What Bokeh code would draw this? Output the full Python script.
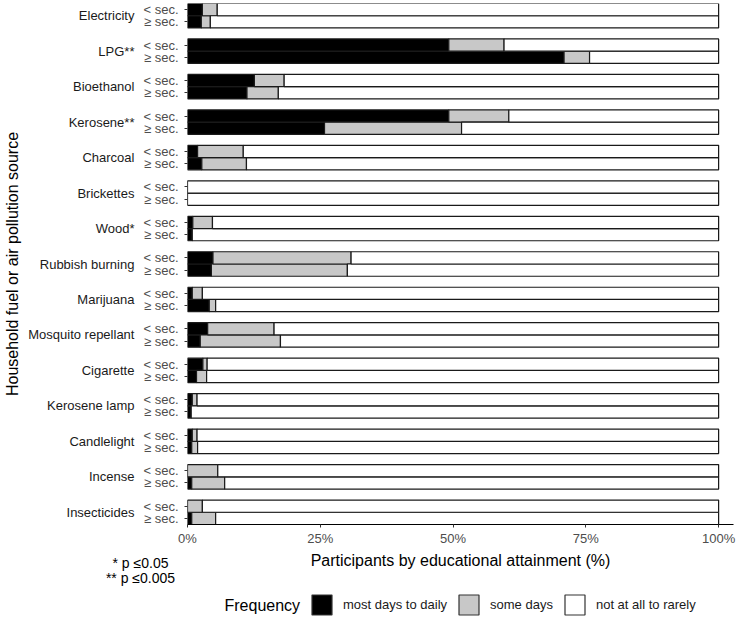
from bokeh.plotting import figure
from bokeh.layouts import column
from bokeh.models import (ColumnDataSource, FactorRange, Range1d, FixedTicker, Legend,
                          LegendItem, Label)
from bokeh.embed import file_html
from bokeh.resources import INLINE

# ---- data (percent of participants) ----
categories = ["Electricity", "LPG**", "Bioethanol", "Kerosene**", "Charcoal", "Brickettes",
              "Wood*", "Rubbish burning", "Marijuana", "Mosquito repellant", "Cigarette",
              "Kerosene lamp", "Candlelight", "Incense", "Insecticides"]
edu_levels = ["< sec.", "\u2265 sec."]

# below secondary education
daily_lt = [2.8, 49.2, 12.6, 49.2, 1.9, 0.0, 1.0, 4.8, 0.9, 3.8, 2.9, 0.9, 0.9, 0.0, 0.0]
some_lt = [2.8, 10.4, 5.6, 11.3, 8.6, 0.0, 3.7, 26.0, 1.9, 12.5, 0.8, 0.9, 0.9, 5.7, 2.8]
# secondary education or above
daily_ge = [2.6, 70.9, 11.2, 25.8, 2.7, 0.0, 0.9, 4.5, 4.1, 2.4, 1.7, 0.7, 0.8, 0.8, 0.8]
some_ge = [1.7, 4.8, 5.9, 25.8, 8.4, 0.0, 0.0, 25.6, 1.2, 15.1, 1.9, 0.0, 1.1, 6.2, 4.5]

freq_labels = ["most days to daily", "some days", "not at all to rarely"]
freq_colors = ["#000000", "#c8c8c8", "#ffffff"]
legend_title = "Frequency"
x_ticks = [0, 25, 50, 75, 100]
x_tick_labels = ["0%", "25%", "50%", "75%", "100%"]
notes = ["* p \u22640.05", "** p \u22640.005"]
x_title = "Participants by educational attainment (%)"
y_title = "Household fuel or air pollution source"

FONT = "Liberation Sans"
W = 736

# ---- build table (top category first on screen -> reversed factor order) ----
factors, daily, some, rarely = [], [], [], []
for i in reversed(range(len(categories))):
    for lvl, d_arr, s_arr in ((edu_levels[1], daily_ge, some_ge), (edu_levels[0], daily_lt, some_lt)):
        factors.append((categories[i], lvl))
        d, s = d_arr[i], s_arr[i]
        daily.append(d)
        some.append(s)
        rarely.append(100 - d - s)

src = ColumnDataSource(dict(factor=factors, daily=daily, some=some, rarely=rarely))

p = figure(width=W, height=548,
           y_range=FactorRange(*factors, group_padding=0.9, range_padding=0),
           x_range=Range1d(0, 102.8),
           output_backend="svg", toolbar_location=None,
           min_border_left=187, min_border_right=3, min_border_top=3, min_border_bottom=21)

renderers = p.hbar_stack(["daily", "some", "rarely"], y="factor", height=1.0, source=src,
                         fill_color=freq_colors, line_color="#1a1a1a", line_width=1.2)

p.outline_line_color = None
p.xgrid.visible = False
p.ygrid.visible = False
p.background_fill_color = "white"

# x axis
xa = p.xaxis[0]
xa.ticker = FixedTicker(ticks=x_ticks)
xa.major_label_overrides = {t: l for t, l in zip(x_ticks, x_tick_labels)}
xa.minor_tick_line_color = None
xa.major_tick_out = 3
xa.major_tick_in = 0
xa.major_tick_line_color = "#333333"
xa.axis_line_color = "#000000"
xa.axis_line_width = 1.2
xa.major_label_text_font = FONT
xa.major_label_text_font_size = "13px"
xa.major_label_text_color = "#4d4d4d"
xa.major_label_standoff = 3

# y axis
ya = p.yaxis[0]
ya.axis_line_color = None
ya.major_tick_out = 3
ya.major_tick_in = 0
ya.major_tick_line_color = "#333333"
ya.minor_tick_line_color = None
ya.major_label_text_font = FONT
ya.major_label_text_font_size = "13px"
ya.major_label_text_color = "#4d4d4d"
ya.major_label_orientation = "horizontal"
ya.major_label_standoff = 6
ya.group_label_orientation = "horizontal"
ya.group_text_font = FONT
ya.group_text_font_size = "13px"
ya.group_text_font_style = "normal"
ya.group_text_color = "#1a1a1a"
ya.separator_line_color = None
ya.axis_label = y_title
ya.axis_label_text_font = FONT
ya.axis_label_text_font_size = "16px"
ya.axis_label_text_font_style = "normal"
ya.axis_label_text_color = "#000000"
ya.axis_label_standoff = 4

# ---- bottom strip: x title, significance notes, legend ----
H2 = 70
p2 = figure(width=W, height=H2, x_range=Range1d(0, W), y_range=Range1d(0, H2),
            output_backend="svg", toolbar_location=None, min_border=0)
p2.axis.visible = False
p2.grid.visible = False
p2.outline_line_color = None

for fig in (p, p2):
    if "frame_align" in fig.properties():
        fig.frame_align = False

p2.add_layout(Label(x=460, y=H2 - 12, text=x_title, text_align="center", text_baseline="middle",
                    text_font=FONT, text_font_size="16px", text_color="#000000"))
for j, txt in enumerate(notes):
    p2.add_layout(Label(x=140, y=H2 - 14 - 15 * j, text=txt, text_align="center",
                        text_baseline="middle", text_font=FONT, text_font_size="14px",
                        text_color="#000000"))
p2.add_layout(Label(x=224, y=13.5, text=legend_title, text_baseline="middle",
                    text_font=FONT, text_font_size="16px", text_color="#000000"))

# legend keys: one off-range dummy row each so the key swatches get drawn
key_src = ColumnDataSource(dict(y=[-1000], left=[0], right=[0]))
key_renderers = [p2.hbar(y="y", left="left", right="right", height=1, source=key_src,
                         fill_color=c, line_color="#333333", line_width=1.2)
                 for c in freq_colors]
items = [LegendItem(label=lab, renderers=[r]) for lab, r in zip(freq_labels, key_renderers)]
p2.add_layout(Legend(items=items, orientation="horizontal", glyph_width=25, glyph_height=25,
                     label_standoff=9, spacing=9, padding=0, margin=0, location=(309, 1),
                     border_line_color=None, background_fill_alpha=0,
                     label_text_font=FONT, label_text_font_size="13px",
                     label_text_color="#1a1a1a", label_height=25))

layout = column(p, p2, spacing=0)
open("out.html", "w").write(file_html(layout, INLINE))
